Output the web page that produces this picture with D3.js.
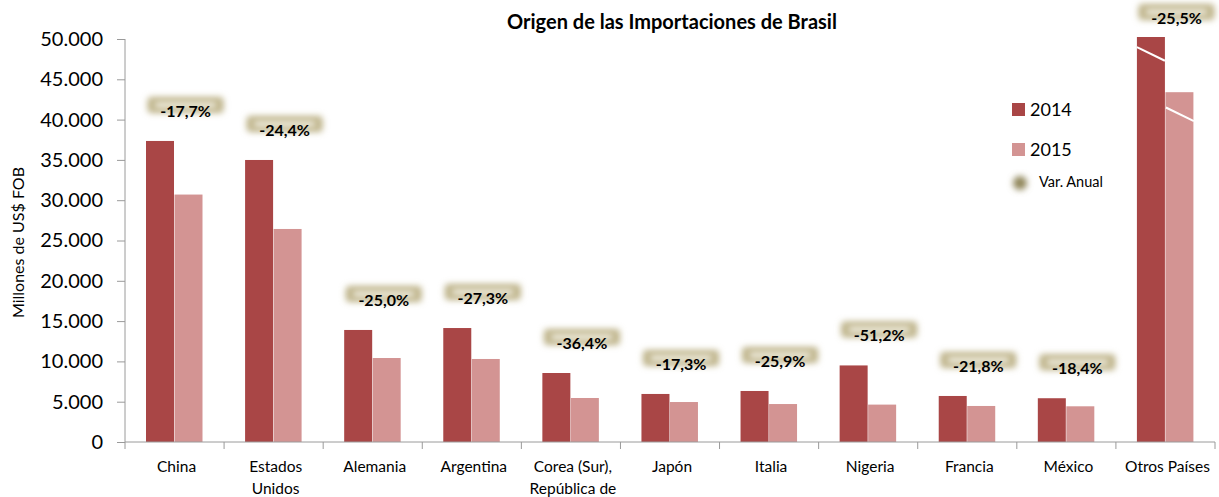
<!DOCTYPE html>
<html>
<head>
<meta charset="utf-8">
<script src="https://cdn.jsdelivr.net/npm/d3@7"></script>
<style>
body { margin: 0; background: #fff; }
text { font-family: Lato, "Open Sans", sans-serif; }
</style>
</head>
<body>
<script>
// datos (millones de US$ FOB)
var paises = ["China", "Estados Unidos", "Alemania", "Argentina", "Corea (Sur), República de",
	"Japón", "Italia", "Nigeria", "Francia", "México", "Otros Países"];
var lineas = [["China"], ["Estados", "Unidos"], ["Alemania"], ["Argentina"], ["Corea (Sur),", "República de"],
	["Japón"], ["Italia"], ["Nigeria"], ["Francia"], ["México"], ["Otros Países"]];
var v2014 = [37350, 34990, 13900, 14140, 8560, 5960, 6330, 9500, 5710, 5430, 50000];
var v2015 = [30700, 26430, 10420, 10300, 5460, 4960, 4710, 4640, 4470, 4430, 43400];
var variacion = ["-17,7%", "-24,4%", "-25,0%", "-27,3%", "-36,4%", "-17,3%", "-25,9%", "-51,2%", "-21,8%", "-18,4%", "-25,5%"];
var ticksY = [0, 5000, 10000, 15000, 20000, 25000, 30000, 35000, 40000, 45000, 50000];

var W = 1219, H = 497;
var c2014 = "#a94646", c2015 = "#d39493";
var margin = {left: 125, right: 4, top: 39, bottom: 55};

var svg = d3.select("body").append("svg")
	.attr("width", W).attr("height", H);

var defs = svg.append("defs");
var f = defs.append("filter").attr("id", "glow")
	.attr("x", "-30%").attr("y", "-100%").attr("width", "160%").attr("height", "300%");
f.append("feGaussianBlur").attr("stdDeviation", 3.2);
var f2 = defs.append("filter").attr("id", "soft")
	.attr("x", "-100%").attr("y", "-100%").attr("width", "300%").attr("height", "300%");
f2.append("feGaussianBlur").attr("stdDeviation", 3);

var x = d3.scaleBand().domain(paises).range([margin.left, W - margin.right]);
var y = d3.scaleLinear().domain([0, 50000]).range([H - margin.bottom, margin.top]);
var bw = 28, gap = 21;

// eje Y
var fmt = d => d3.format(",")(d).replace(/,/g, ".");
var gy = svg.append("g").attr("transform", "translate(" + margin.left + ",0)")
	.call(d3.axisLeft(y).tickValues(ticksY).tickFormat(fmt).tickSize(8).tickPadding(14));
gy.select(".domain").attr("stroke", "#9a9a9a").attr("d", "M0," + y(50000) + "V" + y(0));
gy.selectAll(".tick line").attr("stroke", "#9a9a9a");
gy.selectAll("text").attr("font-size", 20).attr("fill", "#000");

svg.append("text")
	.attr("transform", "translate(24," + (y(25000) + 2) + ") rotate(-90)")
	.attr("text-anchor", "middle").attr("font-size", 16)
	.text("Millones de US$ FOB");

// barras
var sel = svg.append("g").selectAll("g").data(paises).enter().append("g");
sel.append("rect")
	.attr("x", d => x(d) + gap)
	.attr("y", (d, i) => y(Math.min(v2014[i], 50000)) - (i == 10 ? 2 : 0))
	.attr("width", bw)
	.attr("height", (d, i) => y(0) - y(Math.min(v2014[i], 50000)) + (i == 10 ? 2 : 0))
	.attr("fill", c2014);
sel.append("rect")
	.attr("x", d => x(d) + gap + bw + 0.5)
	.attr("y", (d, i) => y(v2015[i]))
	.attr("width", bw)
	.attr("height", (d, i) => y(0) - y(v2015[i]))
	.attr("fill", c2015);

// corte de escala en "Otros Países"
var xo = x("Otros Países") + gap;
svg.append("line")
	.attr("x1", xo).attr("y1", y(49000)).attr("x2", xo + bw).attr("y2", y(47300))
	.attr("stroke", "#fff").attr("stroke-width", 2);
svg.append("line")
	.attr("x1", xo + bw + 1).attr("y1", y(41500)).attr("x2", xo + 2 * bw + 1).attr("y2", y(39800))
	.attr("stroke", "#fff").attr("stroke-width", 2);

// eje X
var gx = svg.append("g").attr("transform", "translate(0," + y(0) + ")");
gx.append("line").attr("x1", margin.left).attr("x2", W - margin.right)
	.attr("stroke", "#9a9a9a");
gx.selectAll("tk").data(paises.concat(["_fin"])).enter().append("line")
	.attr("x1", (d, i) => margin.left + i * x.bandwidth())
	.attr("x2", (d, i) => margin.left + i * x.bandwidth())
	.attr("y1", 0).attr("y2", 7).attr("stroke", "#9a9a9a");
var xl = gx.selectAll("lab").data(paises).enter().append("text")
	.attr("text-anchor", "middle").attr("font-size", 15.5)
	.attr("transform", d => "translate(" + (x(d) + x.bandwidth() / 2 + 2) + ",30)");
xl.selectAll("tspan").data((d, i) => lineas[i]).enter().append("tspan")
	.attr("x", 0).attr("dy", (d, j) => j == 0 ? 0 : 22).text(d => d);

// etiquetas de variación
var lab = svg.append("g").selectAll("g").data(paises).enter().append("g")
	.attr("transform", (d, i) => "translate(" + (x(d) + x.bandwidth() / 2 + 11) + "," +
		(i == 10 ? 24 : y(v2014[i]) - 24) + ")");
lab.append("rect")
	.attr("x", -38).attr("y", -20).attr("width", 76).attr("height", 16).attr("rx", 4)
	.attr("fill", "#bdb288").attr("filter", "url(#glow)");
lab.append("rect")
	.attr("x", -31).attr("y", -15).attr("width", 62).attr("height", 6).attr("rx", 3)
	.attr("fill", "#f2efe3").attr("filter", "url(#glow)");
lab.append("text")
	.attr("text-anchor", "middle").attr("font-size", 16).attr("font-weight", "bold")
	.text((d, i) => variacion[i]);

// título
svg.append("text").attr("x", 672).attr("y", 29)
	.attr("text-anchor", "middle").attr("font-size", 20).attr("font-weight", "bold")
	.text("Origen de las Importaciones de Brasil");

// leyenda
var leg = svg.append("g").attr("transform", "translate(1012,0)");
leg.append("rect").attr("x", 0).attr("y", 103).attr("width", 13).attr("height", 13).attr("fill", c2014);
leg.append("text").attr("x", 18).attr("y", 116).attr("font-size", 18).text("2014");
leg.append("rect").attr("x", 0).attr("y", 143).attr("width", 13).attr("height", 13).attr("fill", c2015);
leg.append("text").attr("x", 18).attr("y", 156).attr("font-size", 18).text("2015");
leg.append("circle").attr("cx", 8).attr("cy", 183).attr("r", 7).attr("fill", "#8f8558")
	.attr("filter", "url(#soft)");
leg.append("text").attr("x", 27).attr("y", 187).attr("font-size", 14.5).text("Var. Anual");
</script>
</body>
</html>
